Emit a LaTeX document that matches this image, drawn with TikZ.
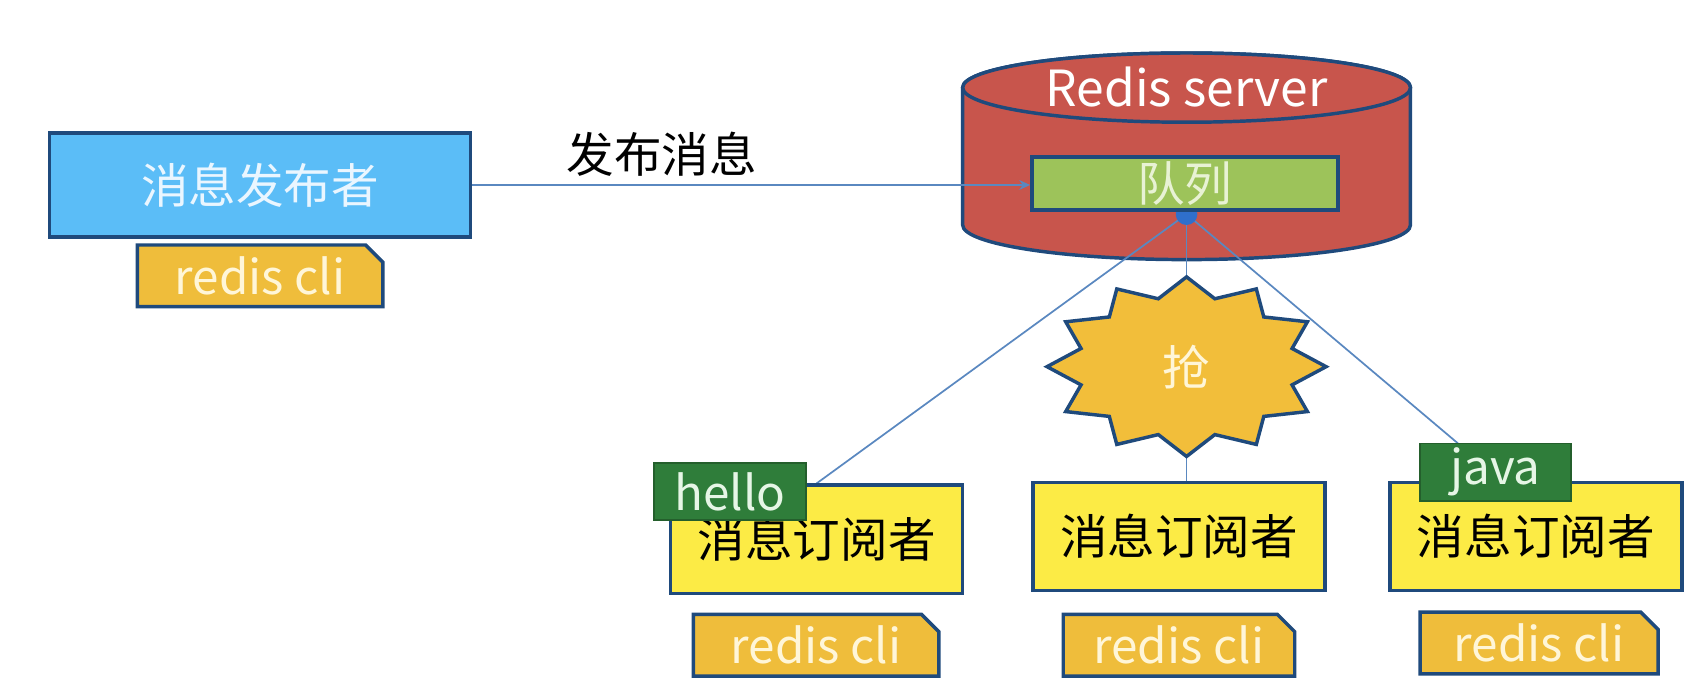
\documentclass[tikz,border=0pt]{standalone}
\usepackage{fontspec}
\setmainfont{Noto Sans CJK SC}
\usetikzlibrary{shapes.misc,arrows.meta,calc}
\definecolor{bordblue}{HTML}{1F4A7C}
\definecolor{pubblue}{HTML}{5BBDF7}
\definecolor{pubtext}{HTML}{EAF6FF}
\definecolor{cligold}{HTML}{EFBD3B}
\definecolor{clitext}{HTML}{FFF6D8}
\definecolor{redfill}{HTML}{C8554C}
\definecolor{qgreen}{HTML}{9DC35A}
\definecolor{qtext}{HTML}{E8F2D4}
\definecolor{subyellow}{HTML}{FCEB45}
\definecolor{taggreen}{HTML}{2F7D3A}
\definecolor{tagdark}{HTML}{245F2C}
\definecolor{tagtext}{HTML}{E6F6E6}
\definecolor{starfill}{HTML}{F2BE3A}
\definecolor{lineblue}{HTML}{5A88C0}
\definecolor{dotblue}{HTML}{2F6FCC}
\pgfdeclarelayer{bg}
\pgfdeclarelayer{mid}
\pgfsetlayers{bg,mid,main}
\begin{document}
\begin{tikzpicture}[x=1pt,y=1pt,
  bigfont/.style={font=\fontsize{44}{50}\selectfont},
  tagfont/.style={font=\fontsize{44}{48}\selectfont},
  box/.style={draw=bordblue, line width=3.2pt, inner sep=0pt, bigfont},
  pubbox/.style={box, fill=pubblue, text=pubtext, minimum width=389pt, minimum height=96pt},
  subbox/.style={box, fill=subyellow, text=black, minimum width=270pt, minimum height=100pt},
  qbox/.style={box, fill=qgreen, text=qtext, minimum width=283pt, minimum height=49pt},
  clitag/.style={chamfered rectangle, chamfered rectangle corners=north east,
     chamfered rectangle xsep=8pt, chamfered rectangle ysep=8pt,
     draw=bordblue, line width=3.2pt, fill=cligold, text=clitext, inner sep=0pt,
     minimum height=57pt, tagfont},
  greentag/.style={draw=tagdark, line width=1.8pt, fill=taggreen, text=tagtext,
     inner sep=0pt, minimum width=140pt, minimum height=53pt, tagfont},
  conn/.style={draw=lineblue, line width=1.6pt},
  plain/.style={bigfont, inner sep=0pt}
]
\useasboundingbox (0,0) rectangle (1568,-632.4);

% Redis server cylinder
\begin{pgfonlayer}{bg}
\draw[fill=redfill, draw=bordblue, line width=3.2pt]
  (890,-81) -- (890,-208) arc[start angle=180, end angle=360, x radius=207, y radius=32]
  -- (1304,-81) arc[start angle=0, end angle=180, x radius=207, y radius=32] -- cycle;
\draw[fill=redfill, draw=bordblue, line width=3.2pt] (1097,-81) ellipse[x radius=207, y radius=32];
\end{pgfonlayer}
\node[plain, text=white, font=\fontsize{46}{50}\selectfont] (srvlabel) at (1097,-80) {Redis server};

% publisher
\node[pubbox] (pub) at (240.5,-171) {消息发布者};
\node[clitag, minimum width=227pt] (cli1) at (240.5,-255) {redis cli};
\node[plain, text=black] (pubmsg) at (612,-143) {发布消息};

% queue and dot
\node[circle, fill=dotblue, minimum size=20pt, inner sep=0pt] (dot) at (1097,-198) {};
\node[qbox] (queue) at (1095.5,-169.5) {队列};

% star
\draw[fill=starfill, draw=bordblue, line width=3.2pt, shift={(1097,-339)}]
  (90:129 and 83) \foreach \a in {90,120,...,420} { -- (\a+15:101 and 65) -- (\a+30:129 and 83) } -- cycle;
\node[plain, text=clitext] (grab) at (1097,-339) {抢};
\coordinate (grabtop) at (1097,-256);
\coordinate (grabbot) at (1097,-422);

% subscribers
\node[subbox] (sub1) at (755,-498.5) {消息订阅者};
\node[subbox] (sub2) at (1090,-496) {消息订阅者};
\node[subbox] (sub3) at (1420,-496) {消息订阅者};
\node[greentag] (hello) at (675,-454.5) {hello};
\node[greentag, minimum width=139pt] (java) at (1382.5,-436.5) {java};
\coordinate (javatop) at (1348,-410);
\node[clitag, minimum width=227pt] (cli2) at (754.5,-596.5) {redis cli};
\node[clitag, minimum width=214pt] (cli3) at (1090,-596.5) {redis cli};
\node[clitag, minimum width=220pt] (cli4) at (1423,-594.5) {redis cli};

% connectors
\begin{pgfonlayer}{mid}
\draw[conn, -{Stealth[length=10pt,width=9pt]}] (pub.east) -- (pub.east -| queue.west);
\draw[conn] (dot.center) -- (sub1.north);
\draw[conn] (dot.center) -- (grabtop);
\draw[conn] (grabbot) -- (grabbot |- sub2.north);
\draw[conn] (dot.center) -- (javatop);
\end{pgfonlayer}
\end{tikzpicture}
\end{document}
